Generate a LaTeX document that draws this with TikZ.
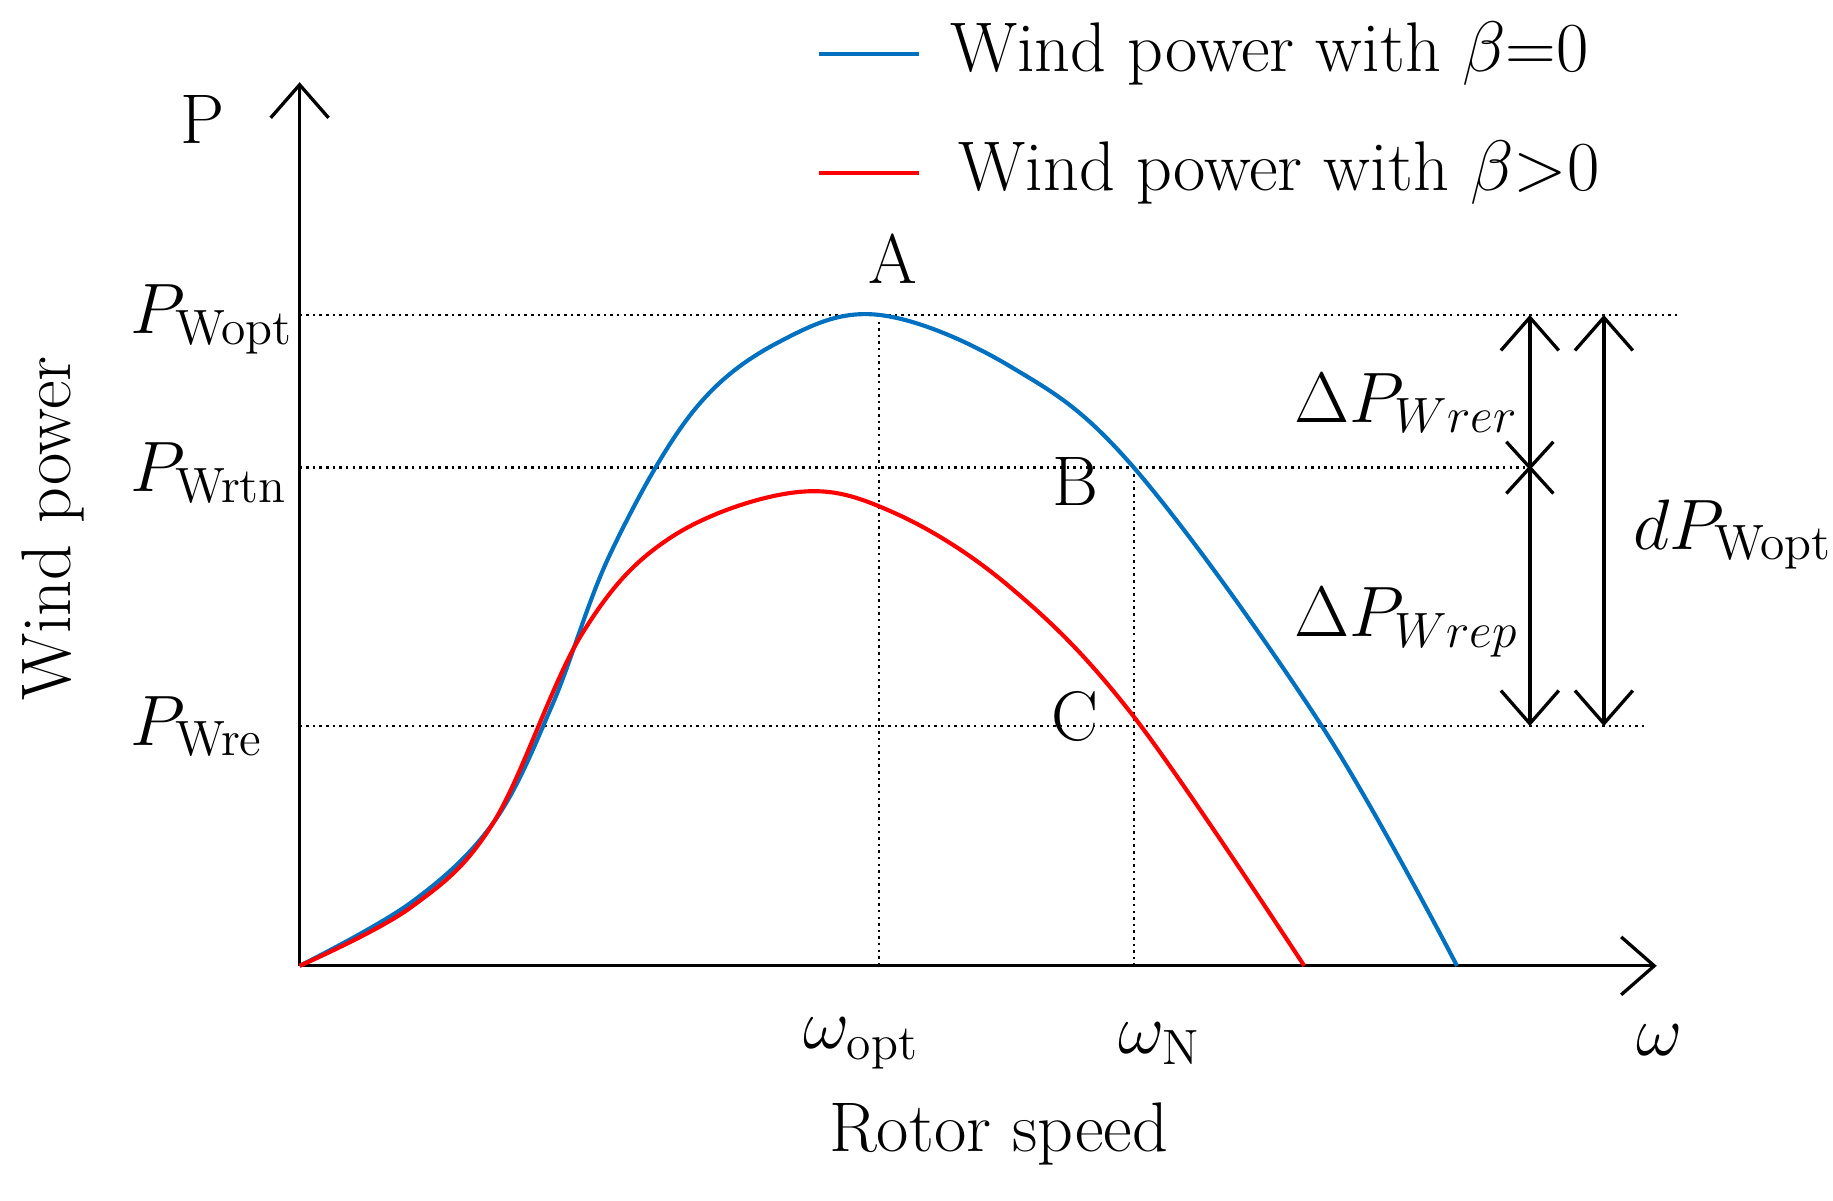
\documentclass[tikz,border=0pt]{standalone}
\usetikzlibrary{arrows.meta}
\definecolor{myblue}{RGB}{0,112,192}
\begin{document}
\begin{tikzpicture}[x=0.01cm,y=-0.01cm,
  ax/.style={line width=0.8pt,-{Straight Barb[length=8pt,width=14pt]}},
  dot/.style={densely dotted,line width=0.6pt},
  dar/.style={line width=0.8pt,{Straight Barb[length=8pt,width=14pt]}-{Straight Barb[length=8pt,width=14pt]}},
  big/.style={font=\fontsize{17}{20}\selectfont,inner sep=0pt}]
\useasboundingbox (0,0) rectangle (1560,1022);
\coordinate (O) at (255,822);
\coordinate (xe) at (1410,822);
\coordinate (ye) at (255,70);
\draw[ax] (O) -- (xe);
\draw[ax] (O) -- (ye);
% dotted guides
\coordinate (a1) at (255,268); \coordinate (a2) at (1428,268);
\coordinate (b1) at (255,398); \coordinate (b2) at (1300,398);
\coordinate (c1) at (255,618); \coordinate (c2) at (1400,618);
\draw[dot] (a1) -- (a2);
\draw[dot] (b1) -- (b2);
\draw[dot] (c1) -- (c2);
\coordinate (A) at (748,268); \coordinate (Ab) at (748,822);
\coordinate (B) at (965,398); \coordinate (Bb) at (965,822);
\draw[dot] (A) -- (Ab);
\draw[dot] (B) -- (Bb);
% curves
\draw[myblue,line width=1pt] plot[smooth,tension=0.6] coordinates {(255,822) (350,768) (420,700) (470,600) (520,470) (590,350) (665,290) (748,268) (860,312) (965,398) (1125,618) (1240,822)};
\draw[red,line width=1pt] plot[smooth,tension=0.6] coordinates {(255,822) (350,772) (420,700) (495,540) (570,458) (677,419) (760,436) (860,500) (965,610) (1110,822)};
% arrows
\coordinate (p1) at (1302,268); \coordinate (p2) at (1302,618);
\coordinate (q1) at (1365,268); \coordinate (q2) at (1365,618);
\draw[dar] (p1) -- (p2);
\draw[dar] (q1) -- (q2);
\coordinate (x) at (1302,398);
\draw[line width=0.8pt] ([shift={(-20,-22)}]x) -- ([shift={(20,22)}]x) ([shift={(-20,22)}]x) -- ([shift={(20,-22)}]x);
% labels
\node[big] at (760,220) {A};
\node[big] at (915,410) {B};
\node[big] at (915,610) {C};
\node[big] at (172,102) {P};
\node[big,anchor=west] at (110,272) {$P_{\scriptstyle\mathrm{Wopt}}$};
\node[big,anchor=west] at (110,402) {$P_{\scriptstyle\mathrm{Wrtn}}$};
\node[big,anchor=west] at (110,618) {$P_{\scriptstyle\mathrm{Wre}}$};
\node[big] at (733,888) {$\omega_{\scriptstyle\mathrm{opt}}$};
\node[big] at (987,888) {$\omega_{\scriptstyle\mathrm{N}}$};
\node[big] at (1412,885) {$\omega$};
\node[big] at (1197,343) {$\Delta P_{\scriptstyle Wrer}$};
\node[big] at (1197,530) {$\Delta P_{\scriptstyle Wrep}$};
\node[big] at (1475,455) {$dP_{\scriptstyle\mathrm{Wopt}}$};
\node[big] at (850,965) {Rotor speed};
\node[big,rotate=90] at (45,450) {Wind power};
% legend
\coordinate (l1) at (697,46); \coordinate (l2) at (782,46);
\coordinate (m1) at (697,147); \coordinate (m2) at (782,147);
\draw[myblue,line width=1pt] (l1) -- (l2);
\draw[red,line width=1pt] (m1) -- (m2);
\node[big,anchor=west] at (808,46) {Wind power with $\beta$=0};
\node[big,anchor=west] at (815,147) {Wind power with $\beta$>0};
\end{tikzpicture}
\end{document}
